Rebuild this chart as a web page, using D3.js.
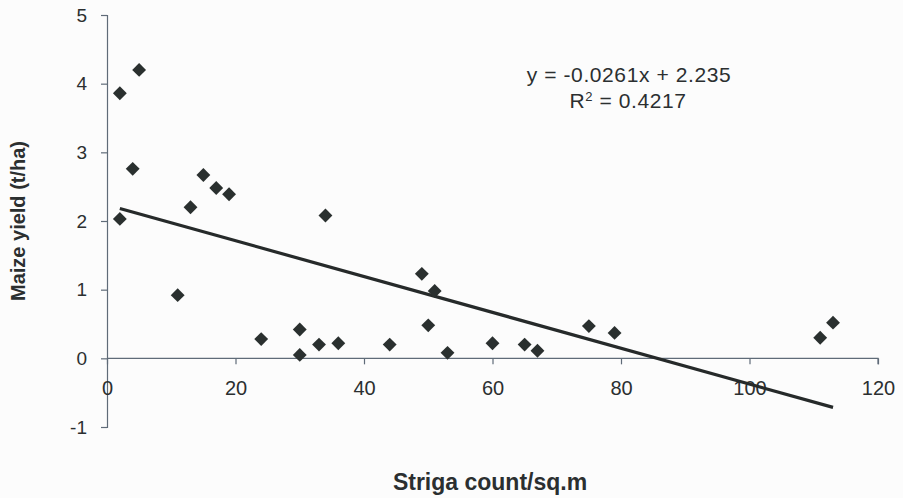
<!DOCTYPE html>
<html>
<head>
<meta charset="utf-8">
<script src="https://cdn.jsdelivr.net/npm/d3@7"></script>
<style>
  body { margin: 0; background: #fcfcfc; }
  svg { display: block; }
  text { font-family: "Liberation Sans", Arial, sans-serif; fill: #2b2f30; }
</style>
</head>
<body>
<div id="chart"></div>
<script>
// striga count per sq.m vs maize yield (t/ha)
var striga = [2, 5, 4, 2, 11, 13, 15, 17, 19, 24, 30, 30, 33, 36, 34, 44, 49, 51, 50, 53, 60, 65, 67, 75, 79, 111, 113];
var yieldT = [3.86, 4.2, 2.76, 2.03, 0.92, 2.2, 2.67, 2.48, 2.39, 0.28, 0.42, 0.05, 0.2, 0.22, 2.08, 0.2, 1.23, 0.98, 0.48, 0.08, 0.22, 0.2, 0.11, 0.47, 0.37, 0.3, 0.52];

var xTicks = [0, 20, 40, 60, 80, 100, 120];
var yTicks = [-1, 0, 1, 2, 3, 4, 5];

// trendline as printed on the chart
var slope = -0.0261, intercept = 2.235, rSquared = "0.4217";

var width = 903, height = 498;
var margin = {top: 15, right: 25, bottom: 71, left: 107};

var svg = d3.select("#chart").append("svg")
    .attr("width", width)
    .attr("height", height);

var x = d3.scaleLinear()
    .domain([0, 120])
    .range([margin.left, 878]);

var y = d3.scaleLinear()
    .domain([-1, 5])
    .range([427, margin.top]);

var data = striga.map(function(d, i) { return {x: d, y: yieldT[i]}; });

// plain hyphen for negatives, like the original
var fmt = function(d) { return d < 0 ? "-" + Math.abs(d) : "" + d; };

// y axis
var yAxis = svg.append("g")
    .attr("transform", "translate(" + x(0) + ",0)")
    .call(d3.axisLeft(y).tickValues(yTicks).tickSize(6).tickPadding(14).tickFormat(fmt));

// x axis sits on y = 0
var xAxis = svg.append("g")
    .attr("transform", "translate(0," + y(0) + ")")
    .call(d3.axisBottom(x).tickValues(xTicks).tickSize(6).tickPadding(14).tickSizeOuter(6).tickFormat(fmt));

[xAxis, yAxis].forEach(function(ax) {
  ax.select(".domain").attr("stroke", "#5f6b78").attr("stroke-width", 1.2);
  ax.selectAll(".tick line").attr("stroke", "#5f6b78").attr("stroke-width", 1.2);
  ax.selectAll(".tick text")
    .style("font-size", "19px")
    .style("font-family", "'Liberation Sans', Arial, sans-serif")
    .attr("fill", "#3a3f42");
});
xAxis.select(".domain").attr("d", "M" + x(0) + ",0H" + x(120) + "V6");
xAxis.selectAll(".tick text").style("font-size", "20px").attr("dy", "0.85em");

// trendline over data range
var ext = d3.extent(striga);
svg.append("line")
    .attr("x1", x(ext[0]))
    .attr("y1", y(slope * ext[0] + intercept))
    .attr("x2", x(ext[1]))
    .attr("y2", y(slope * ext[1] + intercept))
    .attr("stroke", "#262a2a")
    .attr("stroke-width", 3.2);

// diamond markers
var diamond = d3.symbol().type(d3.symbolSquare).size(96);
svg.selectAll(".pt")
    .data(data)
  .enter().append("path")
    .attr("class", "pt")
    .attr("d", diamond)
    .attr("transform", function(d) { return "translate(" + x(d.x) + "," + y(d.y) + ") rotate(45)"; })
    .attr("fill", "#2a302f");

// equation
svg.append("text")
    .attr("x", 629)
    .attr("y", 82)
    .attr("text-anchor", "middle")
    .style("font-size", "21px")
    .style("letter-spacing", "0.6px")
    .text("y = " + slope + "x + " + intercept);

var r2 = svg.append("text")
    .attr("x", 628)
    .attr("y", 108)
    .attr("text-anchor", "middle")
    .style("font-size", "21px")
    .style("letter-spacing", "0.6px");
r2.append("tspan").text("R");
r2.append("tspan").attr("dy", -7).style("font-size", "13px").text("2");
r2.append("tspan").attr("dy", 7).text(" = " + rSquared);

// axis titles
svg.append("text")
    .attr("transform", "translate(25,221) rotate(-90)")
    .attr("text-anchor", "middle")
    .style("font-size", "20px")
    .style("font-weight", "bold")
    .text("Maize yield (t/ha)");

svg.append("text")
    .attr("x", 490)
    .attr("y", 490)
    .attr("text-anchor", "middle")
    .style("font-size", "23px")
    .style("font-weight", "bold")
    .text("Striga count/sq.m");
</script>
</body>
</html>
